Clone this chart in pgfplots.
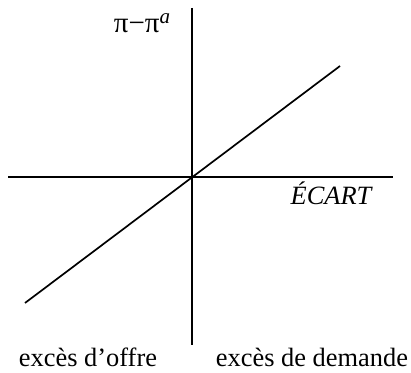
\documentclass[border=0pt]{standalone}
\usepackage{pgfplots}
\pgfplotsset{compat=1.18}
\usepackage{fontspec}
\setmainfont{Liberation Serif}
\tikzset{lbl/.style={font=\fontsize{13.2}{16}\selectfont,anchor=base,inner sep=0pt}}
\begin{document}
\begin{tikzpicture}
\begin{axis}[x=0.5pt,y=0.5pt,
  xmin=-192,xmax=219,ymin=-196,ymax=177,
  hide axis,clip=false]
% frame of the picture
\path (axis cs:-192,-196) rectangle (axis cs:219,177);
% axes
\addplot[black,line width=0.85pt] coordinates {(-184,0)(201,0)};
\addplot[black,line width=0.85pt] coordinates {(0,169)(0,-168)};
% relation
\addplot[black,line width=0.85pt] coordinates {(-167,-126)(148,111)};
\node[lbl] at (axis cs:-50,144) {{\fontsize{14.5}{16}\selectfont π−π}\raisebox{0.8ex}{\fontsize{10.5}{12}\selectfont\itshape a}};
\node[lbl] at (axis cs:139,-28) {\itshape ÉCART};
\node[lbl] at (axis cs:-104,-190) {excès d’offre};
\node[lbl] at (axis cs:120,-190) {excès de demande};
\end{axis}
\end{tikzpicture}
\end{document}
